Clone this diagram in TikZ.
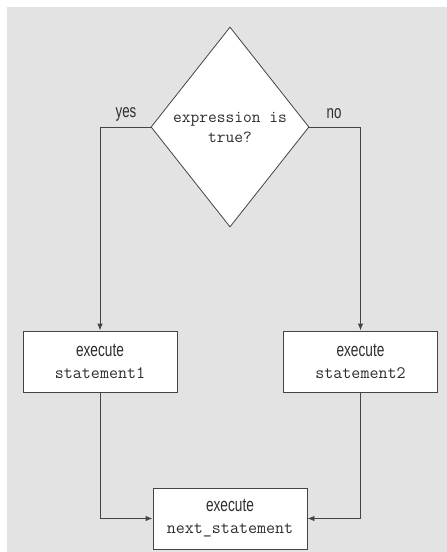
\documentclass[tikz,border=0pt]{standalone}
\usepackage{fontspec}
\setmainfont{Liberation Sans}[FakeStretch=0.72]
\usetikzlibrary{shapes.geometric,arrows.meta}
\definecolor{bggray}{HTML}{E3E3E3}
\definecolor{linegray}{HTML}{444444}
\definecolor{txtgray}{HTML}{2E2E2E}
\tikzset{
  stmt/.style={draw=linegray,fill=white,line width=0.9pt,minimum width=154pt,minimum height=61pt,
    inner sep=0pt,align=center,text=txtgray,font=\fontsize{19}{22}\selectfont},
  decide/.style={diamond,draw=linegray,fill=white,line width=0.8pt,minimum width=158pt,minimum height=200pt,
    inner sep=0pt,align=center,text=txtgray,font=\fontsize{17}{20}\selectfont\ttfamily},
  flow/.style={draw=linegray,line width=0.9pt,-{Latex[length=7pt,width=5.5pt]}},
  lbl/.style={text=txtgray,font=\fontsize{18.5}{22}\selectfont}
}
\newcommand{\code}[1]{{\fontsize{17.5}{22}\selectfont\ttfamily #1}}
\begin{document}
\begin{tikzpicture}[x=1pt,y=-1pt]
\useasboundingbox (0,0) rectangle (447,552);
\fill[bggray] (7,7) rectangle (447,552);
\node[decide] (test) at (230,127) {expression is\\true?};
\node[stmt] (s1) at (100,361.5) {execute\\\code{statement1}};
\node[stmt] (s2) at (360.5,361.5) {execute\\\code{statement2}};
\node[stmt] (next) at (230,518.5) {execute\\\code{next\_statement}};
\node[lbl] (yes) at (126,114) {yes};
\node[lbl] (no) at (334,114) {no};
\draw[flow] (test.west) -| (s1.north);
\draw[flow] (test.east) -| (s2.north);
\draw[flow] (s1.south) |- (next.west);
\draw[flow] (s2.south) |- (next.east);
\end{tikzpicture}
\end{document}
